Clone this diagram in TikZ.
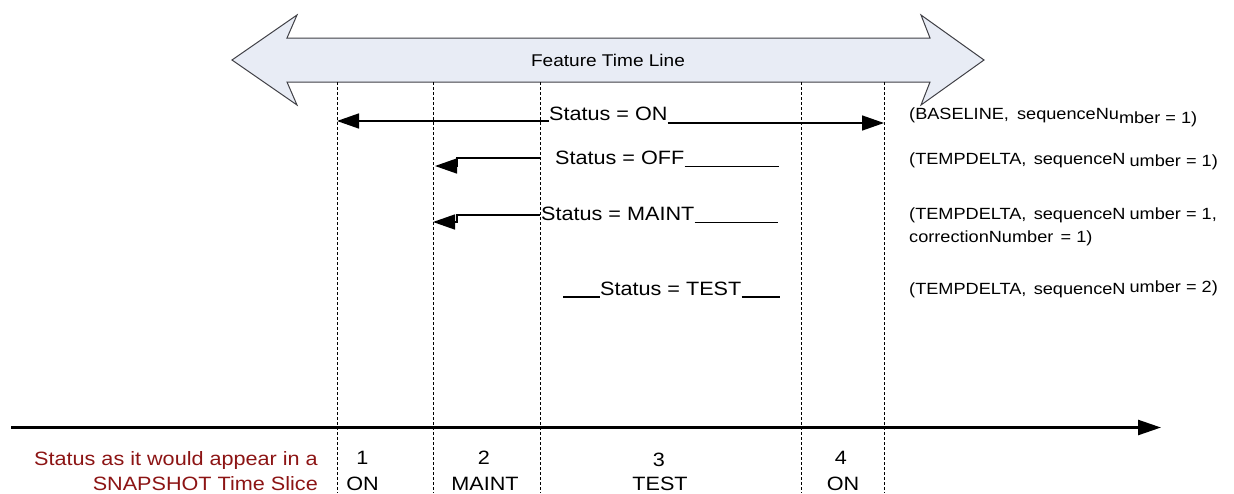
\documentclass[tikz,border=0pt]{standalone}
\usepackage{fontspec}
\setmainfont{Liberation Sans}[FakeStretch=1.12]
\usetikzlibrary{arrows.meta}

\definecolor{bandfill}{RGB}{232,236,245}
\definecolor{bandedge}{RGB}{64,64,70}
\definecolor{slicered}{RGB}{140,20,20}

\tikzset{
  status/.style={anchor=base west, inner sep=0pt, font=\fontsize{19.3}{23}\selectfont},
  note/.style={anchor=base west, inner sep=0pt, font=\fontsize{16.2}{19}\selectfont},
  slice/.style={anchor=base, inner sep=0pt, font=\fontsize{19.3}{23}\selectfont},
  redlabel/.style={anchor=base east, inner sep=0pt, text=slicered, font=\fontsize{19.3}{23}\selectfont},
  guide/.style={line width=0.9pt, dash pattern=on 3pt off 2pt},
  link/.style={line width=1.5pt, -{Triangle[length=22pt,width=15pt]}},
  uline/.style={line width=1.4pt},
  axis/.style={line width=2.5pt, -{Triangle[length=23pt,width=15pt]}},
}

\begin{document}
\begin{tikzpicture}[x=1pt,y=-1pt]
\useasboundingbox (0,0) rectangle (1234,493);

% feature time line band
\draw[fill=bandfill, draw=bandedge, line width=1pt, line join=miter]
  (232,60) -- (297,15) -- (287,38) -- (930,38) -- (921,15) -- (984,60)
  -- (921,105) -- (930,82) -- (287,82) -- (297,105) -- cycle;
\node[inner sep=0pt, font=\fontsize{17}{20}\selectfont] (band) at (608,60) {Feature Time Line};

% slice boundaries
\foreach \n/\x in {1/337,2/433,3/540,4/801,5/884}{
  \coordinate (t\n) at (\x,82);
  \coordinate (b\n) at (\x,493);
  \draw[guide] (t\n) -- (b\n);
}

% baseline status
\node[status] (on) at (549,120) {Status = ON};
\coordinate (onL) at (337,121);
\coordinate (onR) at (884,123);
\draw[link] (on.base west |- onL) -- (onL);
\draw[link] (on.base east |- onR) -- (onR);

% temporary delta OFF
\node[status] (off) at (555,164) {Status = OFF};
\coordinate (offS) at (540,158);
\coordinate (offT) at (435,166);
\coordinate (offK) at (457,166);
\draw[link] (offS) -| (offK) -- (offT);
\coordinate (offE) at (779,166.5);
\draw[uline] (off.base east |- offE) -- (offE);

% temporary delta MAINT
\node[status] (maint) at (541,220) {Status = MAINT};
\coordinate (maS) at (540,215);
\coordinate (maT) at (433,222);
\coordinate (maK) at (457,222);
\draw[link] (maS) -| (maK) -- (maT);
\coordinate (maE) at (778,222.5);
\draw[uline] (maint.base east |- maE) -- (maE);

% temporary delta TEST
\node[status] (test) at (600,295) {Status = TEST};
\coordinate (teA) at (563,297);
\coordinate (teE) at (780,297);
\draw[uline] (teA) -- (test.base west |- teA);
\draw[uline] (test.base east |- teE) -- (teE);

% feature descriptors
\node[note] (n1) at (909,119) {(BASELINE,\hspace{0.5em}sequenceNu\raisebox{-4pt}{mber = 1)}};
\node[note] (n2) at (909,164) {(TEMPDELTA,\hspace{0.45em}sequenceN\hspace{0.25em}\raisebox{-2pt}{umber = 1)}};
\node[note] (n3) at (909,219) {(TEMPDELTA,\hspace{0.45em}sequenceN\hspace{0.25em}umber = 1,};
\node[note] (n3b) at (909,242) {correctionNumber\hspace{0.45em}= 1)};
\node[note] (n4) at (909,294) {(TEMPDELTA,\hspace{0.45em}sequenceN\hspace{0.25em}\raisebox{1.5pt}{umber = 2)}};

% snapshot time axis
\coordinate (ax0) at (11,427.5);
\coordinate (ax1) at (1161,427.5);
\draw[axis] (ax0) -- (ax1);

\node[redlabel] (r1) at (318,465) {Status as it would appear in a};
\node[redlabel] (r2) at (318,490) {SNAPSHOT Time Slice};

\node[slice] (s1) at (362.5,464) {1};
\node[slice] (v1) at (362.5,490) {ON};
\node[slice] (s2) at (484,464) {2};
\node[slice] (v2) at (485,490) {MAINT};
\node[slice] (s3) at (659,466) {3};
\node[slice] (v3) at (660,490.5) {TEST};
\node[slice] (s4) at (841,464) {4};
\node[slice] (v4) at (843,490) {ON};
\end{tikzpicture}
\end{document}
